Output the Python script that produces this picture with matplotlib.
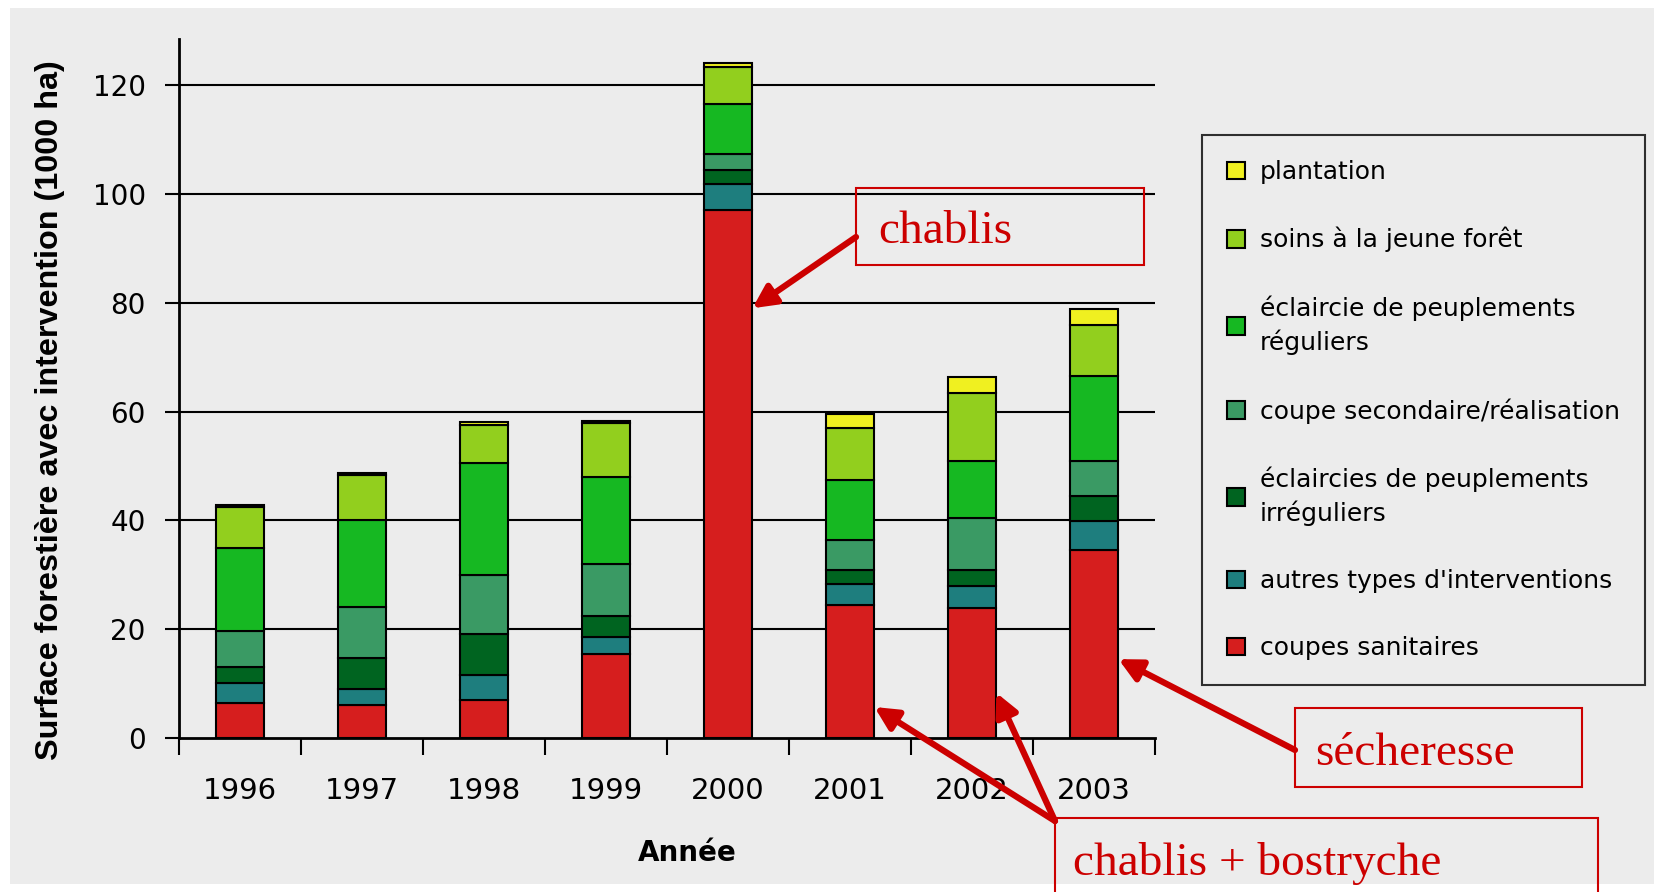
import numpy as np
import matplotlib
matplotlib.use('Agg')
import matplotlib.pyplot as plt
from matplotlib.patches import Rectangle

# -------------------------------
# Data (1000 ha), stacked bottom -> top
# -------------------------------
years = ['1996', '1997', '1998', '1999', '2000', '2001', '2002', '2003']
coupes_sanitaires = [6.5, 6.0, 7.0, 15.5, 97.0, 24.4, 23.9, 34.5]
autres_types = [3.6, 3.0, 4.5, 3.0, 4.9, 4.0, 4.1, 5.4]
eclaircies_irreg = [3.0, 5.7, 7.6, 4.0, 2.6, 2.5, 2.9, 4.5]
coupe_secondaire = [6.6, 9.4, 10.8, 9.4, 2.9, 5.5, 9.6, 6.5]
eclaircie_reg = [15.3, 15.9, 20.6, 16.1, 9.1, 11.1, 10.4, 15.6]
soins_jeune_foret = [7.5, 8.4, 7.1, 9.9, 6.8, 9.4, 12.5, 9.4]
plantation = [0.4, 0.4, 0.4, 0.4, 0.8, 2.7, 3.0, 2.9]

series = [
    (coupes_sanitaires, 'coupes sanitaires', '#D61E1E'),
    (autres_types, "autres types d'interventions", '#1E7E7E'),
    (eclaircies_irreg, 'éclaircies de peuplements\nirréguliers', '#006420'),
    (coupe_secondaire, 'coupe secondaire/réalisation', '#3A9A64'),
    (eclaircie_reg, 'éclaircie de peuplements\nréguliers', '#16B822'),
    (soins_jeune_foret, 'soins à la jeune forêt', '#92CF1E'),
    (plantation, 'plantation', '#F0F020'),
]

W, H = 1654, 892
BG = '#ECECEC'
RED = '#CC0000'


def fx(x):
    return x / W


def fy(y):
    return 1 - y / H


fig = plt.figure(figsize=(W / 100, H / 100), dpi=100, facecolor='white')
# gray panel behind everything
fig.patches.append(Rectangle((fx(10), fy(884)), 1 - fx(10), fy(8) - fy(884),
                             transform=fig.transFigure, facecolor=BG,
                             edgecolor='none', zorder=-10))

ax = fig.add_axes([fx(179), fy(738), fx(1155) - fx(179), fy(39) - fy(738)])
ax.patch.set_alpha(0)

x = np.arange(len(years))
bottom = np.zeros(len(years))
handles = []
for vals, label, color in series:
    b = ax.bar(x, vals, 0.39, bottom=bottom, color=color, edgecolor='black',
               linewidth=1.5, label=label, zorder=3)
    handles.append(b)
    bottom += np.array(vals)

ax.set_xlim(-0.5, len(years) - 0.5)
ax.set_ylim(0, 128.5)
ax.set_yticks(range(0, 121, 20))
ax.tick_params(axis='y', labelsize=20, length=10, width=1.5, direction='out', pad=14)
ax.set_xticks(x)
ax.set_xticklabels(years)
ax.tick_params(axis='x', which='major', length=0, labelsize=21, pad=28)
ax.set_xticks(np.arange(-0.5, len(years), 1), minor=True)
ax.tick_params(axis='x', which='minor', length=12, width=1.5, direction='out')
for yv in range(20, 121, 20):
    ax.axhline(yv, color='black', lw=1.5, zorder=1)
for s in ['top', 'right']:
    ax.spines[s].set_visible(False)
for s in ['left', 'bottom']:
    ax.spines[s].set_linewidth(2)

fig.text(fx(687), fy(853), 'Année', ha='center', va='center',
         fontsize=20, fontweight='bold')
fig.text(fx(50), fy(410), 'Surface forestière avec intervention (1000 ha)',
         rotation=90, ha='center', va='center', fontsize=23.3, fontweight='bold',
         family='Liberation Sans')

# legend (top -> bottom: plantation ... coupes sanitaires)
leg = fig.legend(handles[::-1], [s[1] for s in series[::-1]],
                 loc='upper left', bbox_to_anchor=(fx(1202), fy(135)),
                 fontsize=18, frameon=True, fancybox=False,
                 handlelength=0.7, handleheight=0.7, handletextpad=0.6,
                 labelspacing=1.72, borderpad=1.0, borderaxespad=0)
for t in leg.get_texts():
    t.set_linespacing(1.42)
leg.get_frame().set_edgecolor('black')
leg.get_frame().set_linewidth(1.5)
leg.get_frame().set_facecolor('none')

# -------------------------------
# Annotations
# -------------------------------
boxes = [
    ((856, 188), (1144, 265), 'chablis', (878, 243)),
    ((1295, 708), (1582, 787), 'sécheresse', (1315, 765)),
    ((1055, 818), (1598, 900), 'chablis + bostryche', (1073, 875)),
]
for (x0, y0), (x1, y1), txt, (tx, ty) in boxes:
    fig.patches.append(Rectangle((fx(x0), fy(y1)), fx(x1) - fx(x0), fy(y0) - fy(y1),
                                 transform=fig.transFigure, facecolor='none',
                                 edgecolor=RED, lw=1.5, zorder=5))
    fig.text(fx(tx), fy(ty), txt, color=RED, fontsize=34,
             family='Liberation Serif', ha='left', va='baseline')

arrows = [
    ((856, 237), (4.2, 79)),
    ((1295, 750), (7.2, 14.5)),
    ((1055, 821), (5.2, 5.7)),
    ((1055, 821), (6.2, 8.3)),
]
for (sx, sy), target in arrows:
    ax.annotate('', xy=target, xycoords='data',
                xytext=(fx(sx), fy(sy)), textcoords='figure fraction',
                arrowprops=dict(arrowstyle='-|>', color=RED, lw=4.5,
                                mutation_scale=34, shrinkA=0, shrinkB=0),
                annotation_clip=False, zorder=6)

fig.savefig('out.png', dpi=100, facecolor='white')
